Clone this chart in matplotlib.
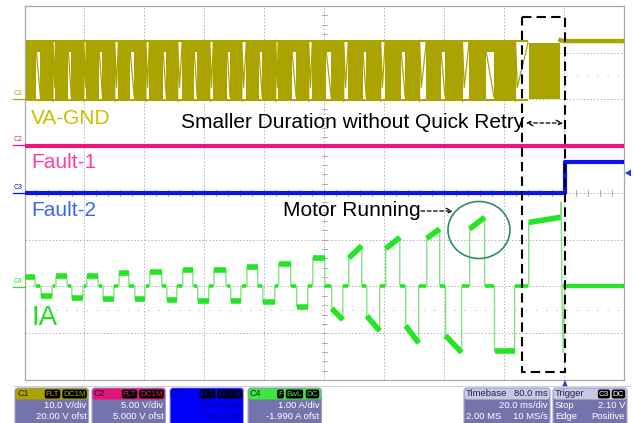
import numpy as np
import matplotlib
matplotlib.use("Agg")
import matplotlib.pyplot as plt
from matplotlib.patches import Ellipse, Rectangle, FancyBboxPatch, Polygon

plt.rcParams['font.family'] = ['Liberation Sans', 'DejaVu Sans']

# time axis in ms: 20 ms/div, 10 div, trigger at 180 ms

# --- C4  IA (A): one row per commutation cycle
ia_hi_start = [0.2, 10.5, 20.8, 31.5, 41.8, 52.8, 63.2, 74.2, 84.8, 96.2, 108.2, 120.5, 134.2, 148.5]
ia_hi_end = [3.5, 14.2, 24.5, 34.8, 45.8, 56.2, 67.2, 77.8, 88.8, 100.2, 112.5, 125.2, 138.5, 153.5]
ia_hi_a = [0.20, 0.22, 0.22, 0.27, 0.31, 0.35, 0.35, 0.40, 0.48, 0.61, 0.60, 0.80, 1.02, 1.22]
ia_hi_b = [0.20, 0.22, 0.22, 0.27, 0.31, 0.35, 0.35, 0.40, 0.48, 0.61, 0.86, 1.04, 1.22, 1.47]
ia_lo_start = [5.5, 15.8, 26.2, 36.8, 47.5, 57.8, 68.8, 79.5, 90.8, 102.5, 114.2, 127.2, 140.5, 156.8]
ia_lo_end = [9.2, 19.5, 29.8, 40.2, 50.8, 61.5, 72.2, 83.5, 94.5, 106.2, 118.5, 131.5, 145.8, 163.5]
ia_lo_a = [-0.22, -0.25, -0.27, -0.27, -0.29, -0.31, -0.33, -0.35, -0.44, -0.48, -0.64, -0.85, -1.06, -1.40]
ia_lo_b = [-0.22, -0.25, -0.27, -0.27, -0.29, -0.31, -0.33, -0.35, -0.44, -0.72, -0.96, -1.22, -1.42, -1.40]
ia_last_t = [168.2, 178.8]
ia_last_i = [1.36, 1.47]
ia_spike_hi = 1.79
ia_spike_lo = -1.42
ia_stop_t = 180.2

# --- C1  VA-GND (V): PWM band, floating phases follow the IA zero intervals
va_high = 12.7
va_low = -0.4
va_pwm_end = 168.0
va_burst = [168.2, 178.8]
va_after = 12.5

# --- C2  Fault-1 (V)
fault1_t = [0.0, 200.0]
fault1_v = [0.0, 0.0]

# --- C3  Fault-2 (V)
fault2_t = [0.0, 180.2, 180.2, 200.0]
fault2_v = [0.0, 0.0, 3.3, 3.3]

# channel scales (per div) and zero positions (div from centre)
ch_scale = {'C1': 10.0, 'C2': 5.0, 'C3': 5.0, 'C4': 1.0}
ch_zero = {'C1': 2.0, 'C2': 1.0, 'C3': 0.0, 'C4': -1.99}

c1_col = '#aaa300'
c2_col = '#f0147f'
c3_col = '#0a14e6'
c4_col = '#22e622'
c4_thin = '#86e286'


def div(ch, v):
    return np.asarray(v, dtype=float) / ch_scale[ch] + ch_zero[ch]


W, H = 634, 423
fig = plt.figure(figsize=(W / 100, H / 100), dpi=100)
x0, x1, y0, y1 = 24.5, 624, 6, 380
ax = fig.add_axes([x0 / W, 1 - y1 / H, (x1 - x0) / W, (y1 - y0) / H])
ax.set_xlim(0, 200)
ax.set_ylim(-4, 4)
ax.set_xticks([])
ax.set_yticks([])
for s in ax.spines.values():
    s.set_color('#a8a8a8')
    s.set_linewidth(0.9)

# graticule
for gx in range(20, 200, 20):
    ax.axvline(gx, color='#b4b4b4', lw=0.7, ls=(0, (1.5, 2)), zorder=0)
for gy in range(-3, 4):
    ax.axhline(gy, color='#b4b4b4', lw=0.7, ls=(0, (1.5, 2)), zorder=0)
for gy in (-2.5, 2.5):
    ax.axhline(gy, color='#c0c0c0', lw=0.7, ls=(0, (1.5, 9)), zorder=0)
for tx in np.arange(0, 200.1, 4):
    ax.plot([tx, tx], [-0.06, 0.06], color='#a0a0a0', lw=0.6, zorder=0)
for ty in np.arange(-4, 4.01, 0.2):
    ax.plot([99.2, 100.8], [ty, ty], color='#a0a0a0', lw=0.6, zorder=0)

# C1 VA-GND
top, bot = div('C1', va_high), div('C1', va_low)
ax.fill_between([0, va_pwm_end], bot, top, color=c1_col, lw=0, zorder=2)
ax.fill_between(va_burst, bot + 0.05, top - 0.07, color=c1_col, lw=0, zorder=2)
n = len(ia_hi_start)
next_hi = ia_hi_start[1:] + [ia_last_t[0]]
for k in range(n):
    # floating after sinking: voltage rises (diode spike to top first)
    ta, tb = ia_lo_end[k], next_hi[k]
    ax.fill_between([ta + 0.3, tb - 0.2], bot + 0.05, top - 0.05, color='white', lw=0, zorder=3)
    ax.plot([ta + 0.3, ta + 0.3, ta + 0.9, tb - 0.2], [bot, top, bot + 0.3, top - 0.05],
            color=c1_col, lw=0.9, zorder=4)
    # floating after sourcing: voltage decays
    ta, tb = ia_hi_end[k], ia_lo_start[k]
    ax.fill_between([ta + 0.4, tb - 0.2], bot + 0.05, top - 0.25, color='white', lw=0, zorder=3)
    ax.plot([ta + 0.4, tb - 0.2], [top - 0.2, bot + 0.1], color=c1_col, lw=0.9, zorder=4)
ax.plot([va_burst[1], va_burst[1] + 1.2, 200], [top, div('C1', va_after), div('C1', va_after)],
        color=c1_col, lw=3.2, zorder=4)

# C2 Fault-1
ax.plot(fault1_t, div('C2', fault1_v), color=c2_col, lw=3.0, zorder=4)

# C3 Fault-2
ax.plot(fault2_t, div('C3', fault2_v), color=c3_col, lw=3.0, zorder=4)

# C4 IA
t_line, i_line = [], []
thick = []
zeros = []
for k in range(n):
    t_line += [ia_hi_start[k], ia_hi_start[k], ia_hi_end[k], ia_hi_end[k],
               ia_lo_start[k], ia_lo_start[k], ia_lo_end[k], ia_lo_end[k]]
    i_line += [0.0, ia_hi_a[k], ia_hi_b[k], 0.0, 0.0, ia_lo_a[k], ia_lo_b[k], 0.0]
    thick.append(([ia_hi_start[k], ia_hi_end[k]], [ia_hi_a[k], ia_hi_b[k]]))
    thick.append(([ia_lo_start[k], ia_lo_end[k]], [ia_lo_a[k], ia_lo_b[k]]))
    zeros.append([ia_hi_end[k] + 0.2, ia_lo_start[k] - 0.2])
    zeros.append([ia_lo_end[k] + 0.2, next_hi[k] - 0.2])
t_line = t_line[1:]
i_line = i_line[1:]
t_line += [ia_last_t[0], ia_last_t[0], ia_last_t[1], ia_last_t[1] + 0.2, ia_last_t[1] + 0.5,
           ia_last_t[1] + 0.9, ia_stop_t, 200.0]
i_line += [0.0, ia_last_i[0], ia_last_i[1], ia_spike_hi, 0.0, ia_spike_lo, 0.0, 0.0]
ax.plot(t_line, div('C4', i_line), color=c4_thin, lw=1.0, zorder=5)
for tt, ii in thick:
    ax.plot(tt, div('C4', ii), color=c4_col, lw=4.0, solid_capstyle='butt', zorder=6)
for tt in zeros:
    ax.plot(tt, div('C4', [0, 0]), color=c4_col, lw=2.6, solid_capstyle='butt', zorder=6)
ax.plot(ia_last_t, div('C4', ia_last_i), color=c4_col, lw=4.0, solid_capstyle='butt', zorder=6)
ax.plot([ia_stop_t, 200], div('C4', [0, 0]), color=c4_col, lw=3.0, zorder=6)

# ---- overlay in pixel coordinates
ov = fig.add_axes([0, 0, 1, 1])
ov.set_xlim(0, W)
ov.set_ylim(H, 0)
ov.axis('off')
ov.patch.set_alpha(0)

fs = 15
ov.text(31, 119, 'VA-GND', color='#c9c000', fontsize=fs, va='center')
ov.text(181, 122, 'Smaller Duration without Quick Retry', color='black', fontsize=fs, va='center')
ov.text(31, 162, 'Fault-1', color='#ff3ca0', fontsize=fs, va='center')
ov.text(31, 210, 'Fault-2', color='#3c64f0', fontsize=fs, va='center')
ov.text(283, 211, 'Motor Running', color='black', fontsize=fs, va='center')
ov.text(31, 318, 'IA', color='#22dd22', fontsize=20, va='center')

ov.annotate('', xy=(453, 211), xytext=(421, 211),
            arrowprops=dict(arrowstyle='->', ls=(0, (3, 2)), lw=0.9, color='black', shrinkA=0, shrinkB=0))
ov.annotate('', xy=(563, 123), xytext=(526, 123),
            arrowprops=dict(arrowstyle='<->', ls=(0, (3, 2)), lw=0.9, color='black', shrinkA=0, shrinkB=0))
ov.add_patch(Rectangle((522, 17), 43, 355, fill=False, ec='black', lw=1.5, ls=(0, (4.5, 2.5)), zorder=8))
ov.add_patch(Ellipse((479, 230), 62, 57, fill=False, ec='#2f8f62', lw=1.2, zorder=8))

# channel markers at left edge
for name, ypix, col in [('C1', 99, c1_col), ('C2', 145, c2_col), ('C3', 193, c3_col), ('C4', 287, c4_col)]:
    ov.text(14, ypix - 2, name, color=col, fontsize=5, va='bottom')
    ov.plot([13, 24.5], [ypix, ypix], color=col, lw=0.9)

ov.add_patch(Polygon([(562, 387), (568, 387), (565, 380)], closed=True, fc='#2040e0', ec='none'))
ov.add_patch(Polygon([(625, 173), (631, 169.5), (631, 176.5)], closed=True, fc='#2040e0', ec='none'))

# ---- info boxes
body = '#7573ac'
ov.plot([14, 630], [386, 386], color='#c8c8d8', lw=0.6)


def info_box(xa, w, head_fc, body_fc, edge='#a6a4cf'):
    ov.add_patch(FancyBboxPatch((xa, 388), w, 40, boxstyle='round,pad=0,rounding_size=3',
                                fc=body_fc, ec=edge, lw=0.8, zorder=3))
    ov.add_patch(FancyBboxPatch((xa + 0.5, 388.5), w - 1, 11, boxstyle='round,pad=0,rounding_size=2.5',
                                fc=head_fc, ec='none', zorder=4))


def tags(items, txt_col):
    for lab, xc in items:
        ov.text(xc, 394, lab, fontsize=5.8, color=txt_col, ha='center', va='center', zorder=6,
                bbox=dict(boxstyle='round,pad=0.12,rounding_size=0.25', fc='black', ec='none'))


chans = [(15, c1_col, 'C1', [('FLT', 37.5), ('DC1M', 59.5)], '10.0 V/div', '20.00 V ofst', '#222200', body, 'white'),
         (92, '#e6147c', 'C2', [('FLT', 37.5), ('DC1M', 59.5)], '5.00 V/div', '5.000 V ofst', '#300018', body, 'white'),
         (170, '#0000f8', 'C3', [('FLT', 37.5), ('DC1M', 59.5)], '5.00 V/div', '0 mV ofst', '#0000b0', '#0000f8', '#0000a8'),
         (248, '#40e640', 'C4', [('F', 32.5), ('BwL', 46.5), ('DC', 64.5)], '1.00 A/div', '-1.990 A ofst', '#003300', body, 'white')]
for xa, hc, nm, tg, l1, l2, nmc, bc, tc in chans:
    info_box(xa, 73.5, hc, bc)
    ov.text(xa + 2, 394, nm, fontsize=6.5, color=nmc, va='center', zorder=6)
    tags([(lab, xa + off) for lab, off in tg], hc)
    ov.text(xa + 71.5, 405.5, l1, fontsize=6.8, color=tc, ha='right', va='center', zorder=6)
    ov.text(xa + 71.5, 416.5, l2, fontsize=6.8, color=tc, ha='right', va='center', zorder=6)

info_box(464, 86, '#c9c8e4', body)
ov.text(466, 394, 'Timebase', fontsize=6.8, color='#202040', va='center', zorder=6)
ov.text(548, 394, '80.0 ms', fontsize=6.8, color='#202040', ha='right', va='center', zorder=6)
ov.text(548, 405.5, '20.0 ms/div', fontsize=6.8, color='white', ha='right', va='center', zorder=6)
ov.text(466, 416.5, '2.00 MS', fontsize=6.8, color='white', va='center', zorder=6)
ov.text(548, 416.5, '10 MS/s', fontsize=6.8, color='white', ha='right', va='center', zorder=6)

info_box(553, 74, '#c9c8e4', body)
ov.text(555, 394, 'Trigger', fontsize=6.8, color='#202040', va='center', zorder=6)
tags([('C3', 604), ('DC', 618.5)], 'white')
ov.text(555, 405.5, 'Stop', fontsize=6.8, color='white', va='center', zorder=6)
ov.text(625, 405.5, '2.10 V', fontsize=6.8, color='white', ha='right', va='center', zorder=6)
ov.text(555, 416.5, 'Edge', fontsize=6.8, color='white', va='center', zorder=6)
ov.text(625, 416.5, 'Positive', fontsize=6.8, color='white', ha='right', va='center', zorder=6)

fig.savefig('out.png', dpi=100)
